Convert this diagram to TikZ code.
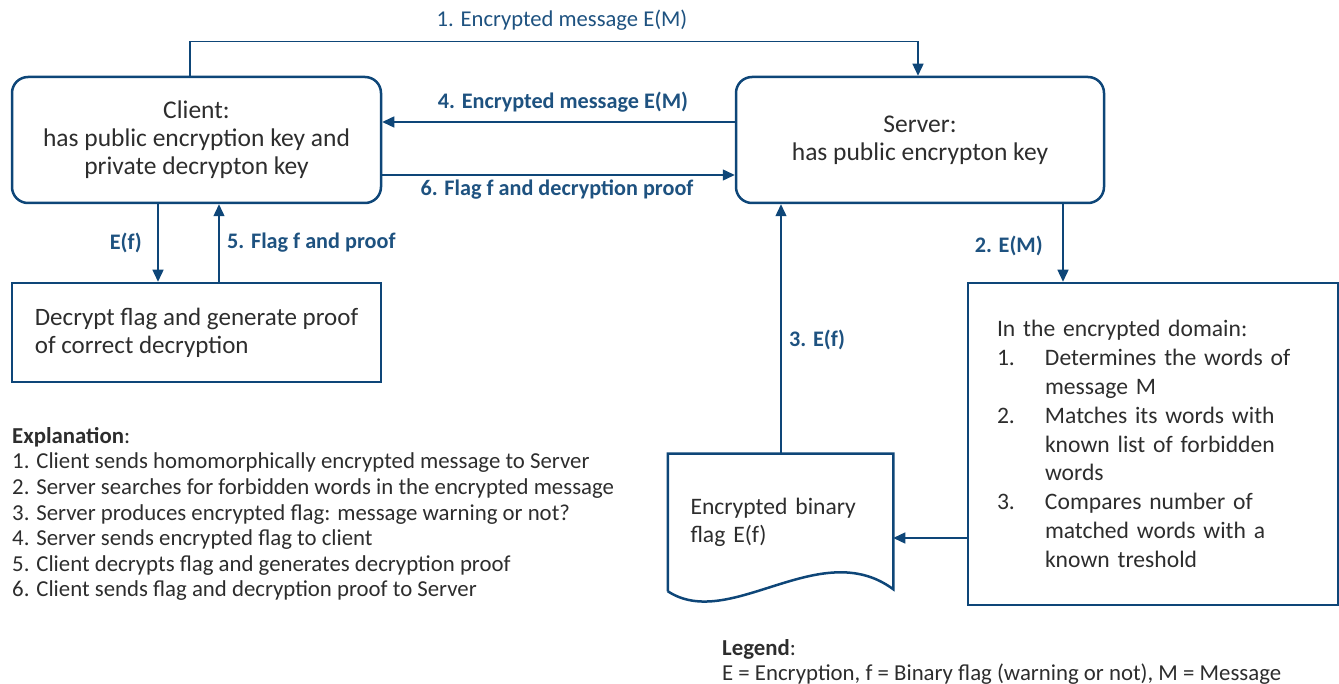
\documentclass[tikz,border=0pt]{standalone}
\usepackage{fontspec}
\setmainfont{Carlito}
\usetikzlibrary{arrows.meta}
\definecolor{lineblue}{RGB}{14,70,120}
\definecolor{labelblue}{RGB}{30,82,128}
\definecolor{txt}{RGB}{45,45,45}
\begin{document}
\begin{tikzpicture}[x=1pt,y=-1pt,
  box/.style={draw=lineblue, line width=2.5pt, text=txt, font=\fontsize{25.5}{28}\selectfont, inner sep=0pt},
  rbox/.style={box, rounded corners=16pt, align=center},
  conn/.style={draw=lineblue, line width=1.4pt, -{Triangle[length=12pt,width=11pt]}},
  lab/.style={text=labelblue, font=\bfseries\fontsize{22.2}{24}\selectfont, inner sep=0pt},
  labn/.style={text=labelblue, font=\fontsize{22.6}{24}\selectfont, inner sep=0pt},
  body/.style={text=txt, inner sep=0pt, align=left, font=\fontsize{22.8}{25.6}\selectfont}
]
\path[use as bounding box] (0,0) rectangle (1339,684);

\node[rbox, minimum width=369pt, minimum height=126pt] (client) at (196.5,140) {Client:\\has public encryption key and\\private decrypton key};
\node[rbox, minimum width=368pt, minimum height=126pt] (server) at (920,140) {Server:\\has public encrypton key};
\node[box, minimum width=369pt, minimum height=99pt, align=left, font=\fontsize{25}{28}\selectfont] (decrypt) at (196.5,332.5) {Decrypt flag and generate proof\\of correct decryption};
\node[box, minimum width=370pt, minimum height=322pt, text width=312pt, align=left, font=\fontsize{23.6}{28.8}\selectfont] (domain) at (1153,444) {In the encrypted domain:\\
\makebox[48pt][l]{1.}Determines the words of\\
\hspace*{48pt}message M\\
\makebox[48pt][l]{2.}Matches its words with\\
\hspace*{48pt}known list of forbidden\\
\hspace*{48pt}words\\
\makebox[48pt][l]{3.}Compares number of\\
\hspace*{48pt}matched words with a\\
\hspace*{48pt}known treshold};
\node[box, draw=none, minimum width=223pt, minimum height=135pt, text width=180pt, align=left, font=\fontsize{23.6}{28}\selectfont] (doc) at (780.5,522.5) {Encrypted binary\\flag E(f)};
\draw[draw=lineblue, line width=2.5pt, line join=miter] (doc.south west) -- (doc.north west) -- (doc.north east) -- ([yshift=2pt]doc.south east) .. controls (820,535) and (730,632) .. (doc.south west);

% connectors
\coordinate (c1) at ([xshift=-6.5pt]client.north);
\coordinate (s1) at ([xshift=-2pt]server.north);
\draw[conn] (c1) -- ++(0,-34) -| (s1);
\node[labn] (l1) at (562,20) {1. Encrypted message E(M)};

\draw[conn] (server.west |- 0,122) -- (client.east |- 0,122);
\node[lab] (l4) at (563,102) {4. Encrypted message E(M)};

\draw[conn] (client.east |- 0,175) -- (server.west |- 0,175);
\node[lab] (l6) at (557,190) {6. Flag f and decryption proof};

\draw[conn] (client.south -| 158,0) -- (decrypt.north -| 158,0);
\node[lab, anchor=east] (lef) at (142,243) {E(f)};

\draw[conn] (decrypt.north -| 219,0) -- (client.south -| 219,0);
\node[lab, anchor=west] (l5) at (227,243) {5. Flag f and proof};

\draw[conn] (server.south -| 1063,0) -- (domain.north -| 1063,0);
\node[lab, anchor=east] (l2) at (1043,246) {2. E(M)};

\draw[conn] (doc.north -| 781,0) -- (server.south -| 781,0);
\node[lab, anchor=west] (l3) at (789,340) {3. E(f)};

\draw[conn] (domain.west |- 0,538) -- (doc.east |- 0,538);

\node[body, anchor=north west] (expl) at (12,427) {\textbf{Explanation}:\\
1. Client sends homomorphically encrypted message to Server\\
2. Server searches for forbidden words in the encrypted message\\
3. Server produces encrypted flag: message warning or not?\\
4. Server sends encrypted flag to client\\
5. Client decrypts flag and generates decryption proof\\
6. Client sends flag and decryption proof to Server};

\node[body, anchor=north west] (legend) at (722,639) {\textbf{Legend}:\\
E = Encryption, f = Binary flag (warning or not), M = Message};
\end{tikzpicture}
\end{document}
